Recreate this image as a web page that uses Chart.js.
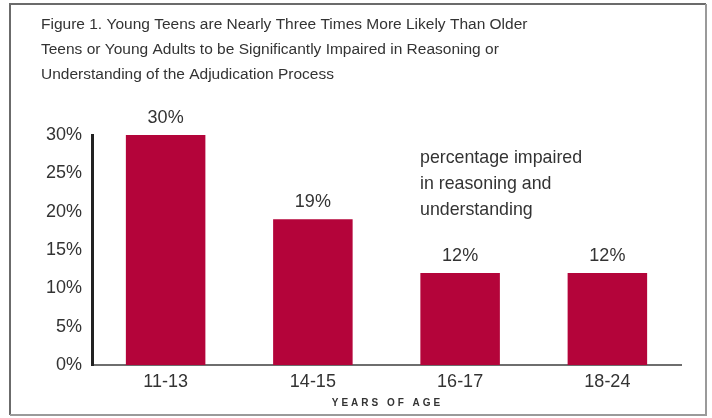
<!DOCTYPE html>
<html>
<head>
<meta charset="utf-8">
<script src="https://cdn.jsdelivr.net/npm/chart.js@4"></script>
<style>
  html, body { margin: 0; padding: 0; background: #fff; }
  #wrap { width: 712px; height: 418px; position: relative; }
</style>
</head>
<body>
<div id="wrap"><canvas id="c" width="712" height="418"></canvas></div>
<script>
// Age groups and share significantly impaired (%)
const ageGroups = ['11-13', '14-15', '16-17', '18-24'];
const impairedPct = [30, 19, 12, 12];
const yTicks = [0, 5, 10, 15, 20, 25, 30];
const titleLines = [
  'Figure 1. Young Teens are Nearly Three Times More Likely Than Older',
  'Teens or Young Adults to be Significantly Impaired in Reasoning or',
  'Understanding of the Adjudication Process'
];
const noteLines = ['percentage impaired', 'in reasoning and', 'understanding'];
const xTitle = 'YEARS OF AGE';

const BAR = '#b4043a';
const TEXT = '#333333';
const SANS = '"Liberation Sans", Arial, sans-serif';

const decor = {
  id: 'decor',
  beforeDraw(chart) {
    const ctx = chart.ctx;
    ctx.save();
    ctx.fillStyle = '#fff';
    ctx.fillRect(0, 0, chart.width, chart.height);
    // frame
    ctx.lineWidth = 2;
    ctx.strokeStyle = '#6b6b6b';
    ctx.beginPath();
    ctx.moveTo(10, 415); ctx.lineTo(10, 4); ctx.lineTo(706, 4);
    ctx.stroke();
    ctx.strokeStyle = '#9a9a9a';
    ctx.beginPath();
    ctx.moveTo(706, 4); ctx.lineTo(706, 415); ctx.lineTo(10, 415);
    ctx.stroke();
    // title
    ctx.fillStyle = TEXT;
    ctx.font = '15.5px ' + SANS;
    ctx.textBaseline = 'middle';
    ctx.textAlign = 'left';
    titleLines.forEach((t, i) => ctx.fillText(t, 41, 25 + i * 25));
    ctx.restore();
  },
  afterDatasetsDraw(chart) {
    const ctx = chart.ctx;
    const meta = chart.getDatasetMeta(0);
    ctx.save();
    ctx.fillStyle = TEXT;
    ctx.font = '18px ' + SANS;
    ctx.textAlign = 'center';
    ctx.textBaseline = 'middle';
    meta.data.forEach((bar, i) => {
      ctx.fillText(impairedPct[i] + '%', bar.x, bar.y - 17);
    });
    // note
    ctx.textAlign = 'left';
    ctx.font = '17.8px ' + SANS;
    noteLines.forEach((t, i) => ctx.fillText(t, 420, 158 + i * 26));
    // axis title
    ctx.font = 'bold 10px ' + SANS;
    ctx.textAlign = 'center';
    ctx.letterSpacing = '3px';
    ctx.fillText(xTitle, (chart.chartArea.left + chart.chartArea.right) / 2 + 1, 403);
    ctx.restore();
  }
};

new Chart(document.getElementById('c'), {
  type: 'bar',
  data: {
    labels: ageGroups,
    datasets: [{
      data: impairedPct,
      backgroundColor: BAR,
      borderWidth: 0,
      barPercentage: 0.54,
      categoryPercentage: 1.0
    }]
  },
  options: {
    responsive: false,
    animation: false,
    devicePixelRatio: 1,
    layout: { padding: { left: 0, right: 31, top: 135, bottom: 0 } },
    plugins: { legend: { display: false }, tooltip: { enabled: false } },
    scales: {
      x: {
        grid: { display: false, drawTicks: false },
        border: { display: true, color: '#6e6e6e', width: 2 },
        ticks: { color: TEXT, font: { family: SANS, size: 18 }, padding: 6 },
        afterFit(s) { s.height = 53; }
      },
      y: {
        min: 0,
        max: 30,
        afterBuildTicks(s) { s.ticks = yTicks.map(v => ({ value: v })); },
        grid: { display: false, drawTicks: false },
        border: { display: true, color: '#222', width: 3 },
        ticks: {
          color: TEXT,
          font: { family: SANS, size: 18 },
          padding: 10,
          callback: v => v + '%'
        },
        afterFit(s) { s.width = 92; }
      }
    }
  },
  plugins: [decor]
});
</script>
</body>
</html>
